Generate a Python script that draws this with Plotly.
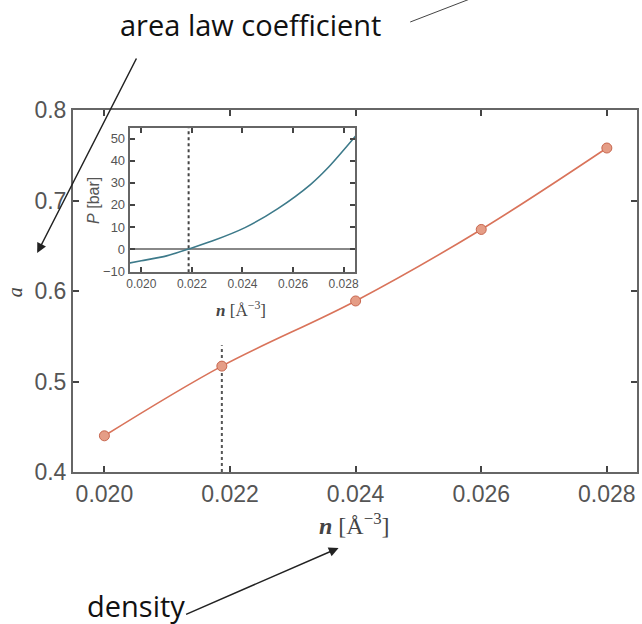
import plotly.graph_objects as go

# main series: area law coefficient vs density
n_main = [0.020, 0.02187, 0.024, 0.026, 0.028]
a_main = [0.440, 0.517, 0.589, 0.668, 0.758]

# inset: pressure vs density
n_inset = [0.0195, 0.0200, 0.0210, 0.02187, 0.0228, 0.0241, 0.0254, 0.0267, 0.0274, 0.0285]
p_inset = [-6.4, -5.3, -3.1, 0.0, 3.6, 9.7, 18.3, 29.3, 37.0, 51.5]

n_eq = 0.02187          # equilibrium density (dotted line)
x_ticks = [0.020, 0.022, 0.024, 0.026, 0.028]
x_tick_text = ["0.020", "0.022", "0.024", "0.026", "0.028"]
y_ticks = [0.4, 0.5, 0.6, 0.7, 0.8]
y_tick_text = ["0.4", "0.5", "0.6", "0.7", "0.8"]
p_ticks = [-10, 0, 10, 20, 30, 40, 50]
p_tick_text = ["\u221210", "0", "10", "20", "30", "40", "50"]

W, H = 642, 624
L, R, T, B = 73, 2, 110, 152
pw, ph = W - L - R, H - T - B

def px(x):
    return (x - L) / pw

def py(y):
    return (H - B - y) / ph

fig = go.Figure()

# dotted vertical line on main
fig.add_trace(go.Scatter(x=[n_eq, n_eq], y=[0.4, 0.54], mode="lines",
                         line=dict(color="#555555", width=2, dash="dot"),
                         showlegend=False, hoverinfo="skip"))
fig.add_trace(go.Scatter(x=n_main, y=a_main, mode="lines+markers",
                         line=dict(color="#d9735a", width=1.6, shape="spline"),
                         marker=dict(size=10, color="#e59d86",
                                     line=dict(color="#c8674f", width=1)),
                         showlegend=False))

# inset traces
fig.add_trace(go.Scatter(x=[0.0195, 0.0285], y=[0, 0], mode="lines",
                         line=dict(color="#888888", width=2),
                         xaxis="x2", yaxis="y2", showlegend=False, hoverinfo="skip"))
fig.add_trace(go.Scatter(x=[n_eq, n_eq], y=[-10.5, 55], mode="lines",
                         line=dict(color="#444444", width=2, dash="dot"),
                         xaxis="x2", yaxis="y2", showlegend=False, hoverinfo="skip"))
fig.add_trace(go.Scatter(x=n_inset, y=p_inset, mode="lines",
                         line=dict(color="#3d7a8a", width=1.6, shape="spline", smoothing=0.8),
                         xaxis="x2", yaxis="y2", showlegend=False))

axis_common = dict(showgrid=False, zeroline=False, showline=True, linecolor="#666666",
                   linewidth=2, mirror="ticks", ticks="inside", tickcolor="#444444",
                   tickwidth=1.5)

fig.update_layout(
    width=W, height=H,
    margin=dict(l=L, r=R, t=T, b=B),
    paper_bgcolor="white", plot_bgcolor="white",
    xaxis=dict(range=[0.0195, 0.02848], tickvals=x_ticks, ticktext=x_tick_text,
               ticklen=6, tickfont=dict(family="Liberation Sans", size=23, color="#555555"),
               **axis_common),
    yaxis=dict(range=[0.4, 0.8], tickvals=y_ticks, ticktext=y_tick_text,
               ticklen=6, tickfont=dict(family="Liberation Sans", size=23, color="#555555"),
               **axis_common),
    xaxis2=dict(domain=[px(130), px(357)], anchor="y2", range=[0.01954, 0.02847],
                tickvals=x_ticks, ticktext=x_tick_text, ticklen=5,
                tickfont=dict(family="Liberation Sans", size=12, color="#555555"),
                **axis_common),
    yaxis2=dict(domain=[py(272), py(128)], anchor="x2", range=[-10.4, 54.8],
                tickvals=p_ticks, ticktext=p_tick_text, ticklen=5,
                tickfont=dict(family="Liberation Sans", size=13, color="#555555"),
                **axis_common),
)

serif = "Liberation Serif"
ann = [
    dict(x=px(356), y=py(524), text="<i><b>n</b></i> [Å<sup>\u22123</sup>]",
         font=dict(family=serif, size=24, color="#444444"), showarrow=False),
    dict(x=px(15), y=py(292), text="<i>a</i>", textangle=-90,
         font=dict(family=serif, size=20, color="#444444"), showarrow=False),
    dict(x=px(242), y=py(309), text="<i><b>n</b></i> [Å<sup>\u22123</sup>]",
         font=dict(family=serif, size=17, color="#444444"), showarrow=False),
    dict(x=px(93), y=py(200), text="<i>P</i> [bar]", textangle=-90,
         font=dict(family="Liberation Sans", size=16, color="#555555"), showarrow=False),
    dict(x=px(251), y=py(24), text="area law coefficient",
         font=dict(family="Open Sans", size=29, color="#111111"), showarrow=False),
    dict(x=px(136), y=py(605), text="density",
         font=dict(family="Open Sans", size=29, color="#111111"), showarrow=False),
    # arrows
    dict(x=px(37), y=py(253), ax=100, ay=-196, text="", showarrow=True,
         arrowhead=2, arrowsize=1.3, arrowwidth=1.5, arrowcolor="#222222"),
    dict(x=px(340), y=py(548), ax=-154, ay=67, text="", showarrow=True,
         arrowhead=2, arrowsize=1.3, arrowwidth=1.5, arrowcolor="#222222"),
]
for a in ann:
    a.update(xref="paper", yref="paper", xanchor="center", yanchor="middle")
fig.update_layout(annotations=ann)

fig.add_shape(type="line", xref="paper", yref="paper",
              x0=px(412), y0=py(22), x1=px(472), y1=py(-1),
              line=dict(color="#444444", width=1))

fig.write_html("out.html")
